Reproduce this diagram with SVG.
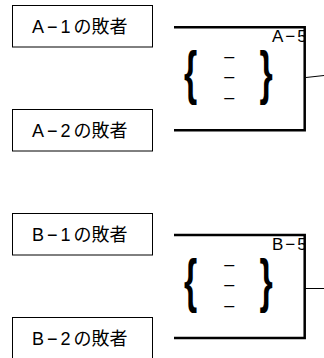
<svg xmlns="http://www.w3.org/2000/svg" width="324" height="358" viewBox="0 0 324 358">
<style>
.box{fill:#fff;stroke:#000;stroke-width:1}
.lbl{font-family:"Liberation Sans","Noto Sans CJK JP",sans-serif;font-size:18px;fill:#000}
.lat{letter-spacing:3px}
.mid{font-family:"Liberation Sans","Noto Sans CJK JP",sans-serif;font-size:17px;fill:#000;letter-spacing:2px}
.brace{font-family:"Liberation Sans",sans-serif;font-size:34px;font-weight:bold;fill:#000}
.dash{font-family:"Liberation Sans",sans-serif;font-size:18px;fill:#000;text-anchor:middle}
.br{fill:none;stroke:#000;stroke-width:2.5}
.out{fill:none;stroke:#000;stroke-width:1}
</style>
<defs>
<clipPath id="clipR"><rect x="0" y="0" width="305" height="358"/></clipPath>
</defs>
<g id="boxA1"><rect class="box" x="12.5" y="5.5" width="140" height="41.5"/><text class="lbl" x="32" y="32.5"><tspan class="lat">A−1</tspan>の敗者</text></g>
<g id="boxA2"><rect class="box" x="12.5" y="109.5" width="140" height="41.5"/><text class="lbl" x="32" y="136.5"><tspan class="lat">A−2</tspan>の敗者</text></g>
<g id="boxB1"><rect class="box" x="12.5" y="213.5" width="140" height="41.5"/><text class="lbl" x="32" y="240.5"><tspan class="lat">B−1</tspan>の敗者</text></g>
<g id="boxB2"><rect class="box" x="12.5" y="317.5" width="140" height="41.5"/><text class="lbl" x="32" y="344.5"><tspan class="lat">B−2</tspan>の敗者</text></g>
<g id="matchA5">
<text class="mid" x="272" y="41.7" clip-path="url(#clipR)">A−5</text>
<text class="brace" transform="translate(184,93.4) scale(1,1.75)">{</text>
<text class="brace" transform="translate(259.5,93.4) scale(1,1.75)">}</text>
<text class="dash" x="229.3" y="61.7">–</text>
<text class="dash" x="229.3" y="81.7">–</text>
<text class="dash" x="229.3" y="103.3">–</text>
</g>
<g id="matchB5">
<text class="mid" x="272" y="250" clip-path="url(#clipR)">B−5</text>
<text class="brace" transform="translate(184,301.4) scale(1,1.75)">{</text>
<text class="brace" transform="translate(259.5,301.4) scale(1,1.75)">}</text>
<text class="dash" x="229.3" y="269.7">–</text>
<text class="dash" x="229.3" y="289.7">–</text>
<text class="dash" x="229.3" y="311.3">–</text>
</g>
<g id="connectors">
<polyline class="br" points="174,27.2 304.7,27.2 304.7,130.3 174,130.3"/>
<line class="out" x1="306" y1="77.5" x2="324" y2="75.5"/>
<polyline class="br" points="174,235 304.7,235 304.7,338 174,338"/>
<line class="out" x1="304" y1="288.5" x2="324" y2="288.5"/>
</g>
</svg>
